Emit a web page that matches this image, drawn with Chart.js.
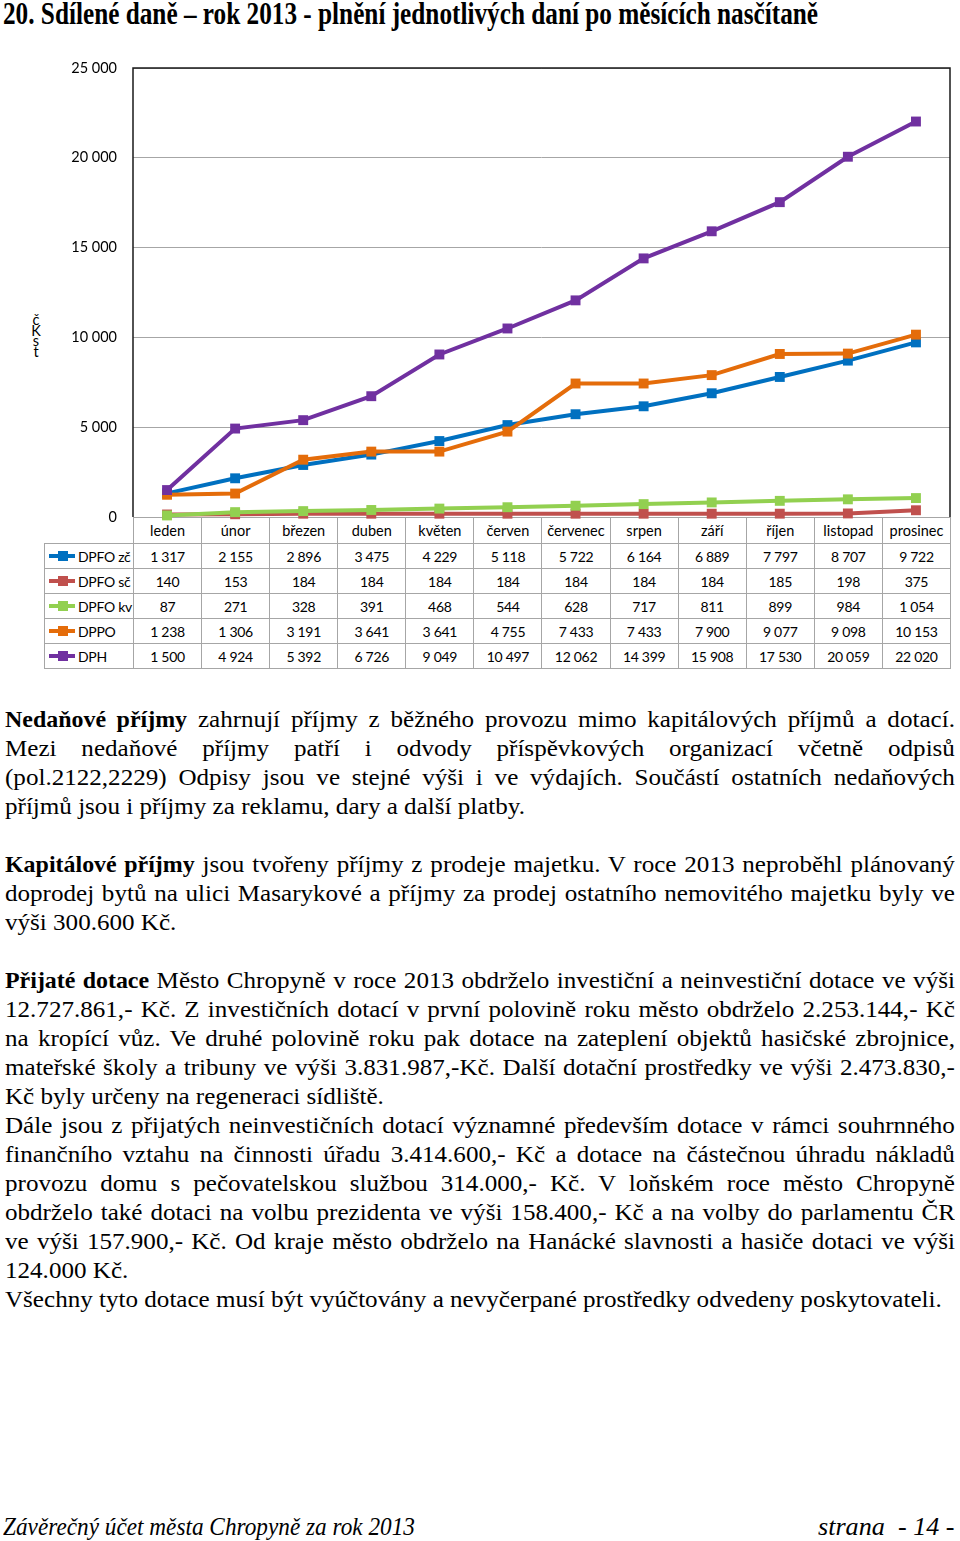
<!DOCTYPE html>
<html>
<head>
<meta charset="utf-8">
<script src="https://cdn.jsdelivr.net/npm/chart.js@4.4.1/dist/chart.umd.min.js"></script>
<style>
  html, body { margin: 0; padding: 0; background: #fff; }
  body { width: 960px; height: 1541px; position: relative; overflow: hidden; }
  .abs { position: absolute; }
  #heading { left: 3px; top: -4px; font: bold 31px "Liberation Serif", serif; white-space: nowrap; transform-origin: 0 0; line-height: 36px; }
  #chartBox { left: 0; top: 50px; width: 960px; height: 480px; z-index: 2; }
  #ytitle { left: 30px; top: 315px; font: 14.5px Lato, sans-serif; line-height: 10.5px; text-align: center; width: 12px; }
  table.data { position: absolute; left: 44px; top: 517px; border-collapse: collapse; table-layout: fixed; width: 907px; font: 14px Lato, sans-serif; z-index: 1; }
  table.data td { border: 1px solid #a6a6a6; text-align: center; padding: 0; white-space: nowrap; overflow: hidden; height: 24px; letter-spacing: -0.3px; }
  table.data tr.head td { height: 25px; font-size: 14.5px; letter-spacing: 0; }
  table.data td.blank { border-top: none; border-left: none; }
  table.data td.leg { text-align: left; position: relative; }
  .mk { position: absolute; left: 4px; top: 10px; width: 26px; height: 4px; }
  .mk i { position: absolute; left: 9px; top: -3px; width: 10px; height: 10px; background: inherit; }
  .leg span.t { margin-left: 33px; }
  .txt { position: absolute; left: 5px; width: 909px; font: 24px "Liberation Serif", serif; line-height: 29px; height: 29px; white-space: nowrap; transform: scaleX(1.045); transform-origin: 0 0; }
  .txt b { font-size: 0.955em; }
  .txt.j { text-align: justify; text-align-last: justify; white-space: normal; }
  .foot { position: absolute; top: 1512px; font: italic 25px "Liberation Serif", serif; white-space: nowrap; transform-origin: 0 0; line-height: 30px; }
</style>
</head>
<body>
<div id="heading" class="abs">20. Sdílené daně – rok 2013 - plnění jednotlivých daní po měsících nasčítaně</div>
<div id="ytitle" class="abs">č<br>K<br>s<br>t</div>
<div id="chartBox" class="abs"><canvas id="chart"></canvas></div>
<table class="data" id="tbl"></table>
<div id="textBlock"></div>
<div class="foot" id="foot1" style="left:3px">Závěrečný účet města Chropyně za rok 2013</div>
<div class="foot" id="foot2" style="left:818px">strana &nbsp;- 14 -</div>

<script>
const months = ['leden', 'únor', 'březen', 'duben', 'květen', 'červen', 'červenec', 'srpen', 'září', 'říjen', 'listopad', 'prosinec'];
const seriesNames = ['DPFO zč', 'DPFO sč', 'DPFO kv', 'DPPO', 'DPH'];
const dpfoZc = [1317, 2155, 2896, 3475, 4229, 5118, 5722, 6164, 6889, 7797, 8707, 9722];
const dpfoSc = [140, 153, 184, 184, 184, 184, 184, 184, 184, 185, 198, 375];
const dpfoKv = [87, 271, 328, 391, 468, 544, 628, 717, 811, 899, 984, 1054];
const dppo = [1238, 1306, 3191, 3641, 3641, 4755, 7433, 7433, 7900, 9077, 9098, 10153];
const dph = [1500, 4924, 5392, 6726, 9049, 10497, 12062, 14399, 15908, 17530, 20059, 22020];
const seriesColors = ['#0070c0', '#c0504d', '#92d050', '#e46c0a', '#7030a0'];
const yTicks = [0, 5000, 10000, 15000, 20000, 25000];

const allSeries = [dpfoZc, dpfoSc, dpfoKv, dppo, dph];

function fmt(n) {
  return String(n).replace(/\B(?=(\d{3})+(?!\d))/g, '\u00a0');
}

// heading / footer squeezed like the pdf
function squeeze(id, w) {
  const el = document.getElementById(id);
  el.style.transform = 'scaleX(' + (w / el.scrollWidth) + ')';
}
squeeze('heading', 815);
squeeze('foot1', 412);
squeeze('foot2', 137);

// plot frame (top, left, right)
const framePlugin = {
  id: 'frame',
  beforeDatasetsDraw(chart) {
    const a = chart.chartArea, ctx = chart.ctx;
    ctx.save();
    ctx.strokeStyle = '#1a1a1a';
    ctx.lineWidth = 1.5;
    ctx.beginPath();
    ctx.moveTo(a.left, a.bottom);
    ctx.lineTo(a.left, a.top);
    ctx.lineTo(a.right, a.top);
    ctx.lineTo(a.right, a.bottom);
    ctx.stroke();
    ctx.restore();
  }
};

const ctx = document.getElementById('chart');
new Chart(ctx, {
  type: 'line',
  data: {
    labels: months,
    datasets: allSeries.map((d, i) => ({
      label: seriesNames[i],
      data: d,
      borderColor: seriesColors[i],
      backgroundColor: seriesColors[i],
      borderWidth: 4,
      pointStyle: 'rect',
      pointRadius: 7,
      pointBorderWidth: 0,
      tension: 0,
      clip: false,
      order: 5 - i
    }))
  },
  options: {
    responsive: true,
    maintainAspectRatio: false,
    animation: false,
    layout: { autoPadding: false, padding: { left: 0, right: 10, top: 18, bottom: 13 } },
    plugins: { legend: { display: false }, tooltip: { enabled: false } },
    scales: {
      x: { display: false, offset: true },
      y: {
        min: 0, max: 25000,
        afterFit(scale) {
          scale.width = 133;
          scale.paddingTop = 0;
          scale.paddingBottom = 0;
        },
        afterBuildTicks(scale) { scale.ticks = yTicks.map(v => ({ value: v })); },
        border: { display: false },
        grid: { color: '#a6a6a6', lineWidth: 1, drawTicks: false },
        ticks: {
          padding: 16,
          color: '#000',
          font: { family: 'Lato', size: 14.5 },
          callback: v => fmt(v)
        }
      }
    }
  },
  plugins: [framePlugin]
});

// data table under the plot
const tbl = document.getElementById('tbl');
let html = '<colgroup><col style="width:89px">' + months.map(() => '<col>').join('') + '</colgroup>';
html += '<tr class="head"><td class="blank"></td>' + months.map(m => '<td>' + m + '</td>').join('') + '</tr>';
allSeries.forEach((d, i) => {
  html += '<tr><td class="leg"><span class="mk" style="background:' + seriesColors[i] + '"><i></i></span><span class="t">' + seriesNames[i] + '</span></td>' +
    d.map(v => '<td>' + fmt(v) + '</td>').join('') + '</tr>';
});
tbl.innerHTML = html;

// body text, one line per row so the breaks match the page
const lines = [
  ['j', '<b>Nedaňové příjmy</b> zahrnují příjmy z běžného provozu mimo kapitálových příjmů a dotací.'],
  ['j', 'Mezi nedaňové příjmy patří i odvody příspěvkových organizací včetně odpisů'],
  ['j', '(pol.2122,2229) Odpisy jsou ve stejné výši i ve výdajích. Součástí ostatních nedaňových'],
  ['l', 'příjmů jsou i příjmy za reklamu, dary a další platby.'],
  ['l', ''],
  ['j', '<b>Kapitálové příjmy</b> jsou tvořeny příjmy z prodeje majetku. V roce 2013 neproběhl plánovaný'],
  ['j', 'doprodej bytů na ulici Masarykové a příjmy za prodej ostatního nemovitého majetku byly ve'],
  ['l', 'výši 300.600 Kč.'],
  ['l', ''],
  ['j', '<b>Přijaté dotace</b> Město Chropyně v roce 2013 obdrželo investiční a neinvestiční dotace ve výši'],
  ['j', '12.727.861,- Kč. Z investičních dotací v první polovině roku město obdrželo 2.253.144,- Kč'],
  ['j', 'na kropící vůz. Ve druhé polovině roku pak dotace na zateplení objektů hasičské zbrojnice,'],
  ['j', 'mateřské školy a tribuny ve výši 3.831.987,-Kč. Další dotační prostředky ve výši 2.473.830,-'],
  ['l', 'Kč byly určeny na regeneraci sídliště.'],
  ['j', 'Dále jsou z přijatých neinvestičních dotací významné především dotace v rámci souhrnného'],
  ['j', 'finančního vztahu na činnosti úřadu 3.414.600,- Kč a dotace na částečnou úhradu nákladů'],
  ['j', 'provozu domu s pečovatelskou službou 314.000,- Kč. V loňském roce město Chropyně'],
  ['j', 'obdrželo také dotaci na volbu prezidenta ve výši 158.400,- Kč a na volby do parlamentu ČR'],
  ['j', 've výši 157.900,- Kč. Od kraje město obdrželo na Hanácké slavnosti a hasiče dotaci ve výši'],
  ['l', '124.000 Kč.'],
  ['l', 'Všechny tyto dotace musí být vyúčtovány a nevyčerpané prostředky odvedeny poskytovateli.']
];
document.getElementById('textBlock').innerHTML = lines.map((l, i) =>
  '<div class="txt' + (l[0] === 'j' ? ' j' : '') + '" style="top:' + (705 + i * 29) + 'px">' + l[1] + '</div>'
).join('');
</script>
</body>
</html>
